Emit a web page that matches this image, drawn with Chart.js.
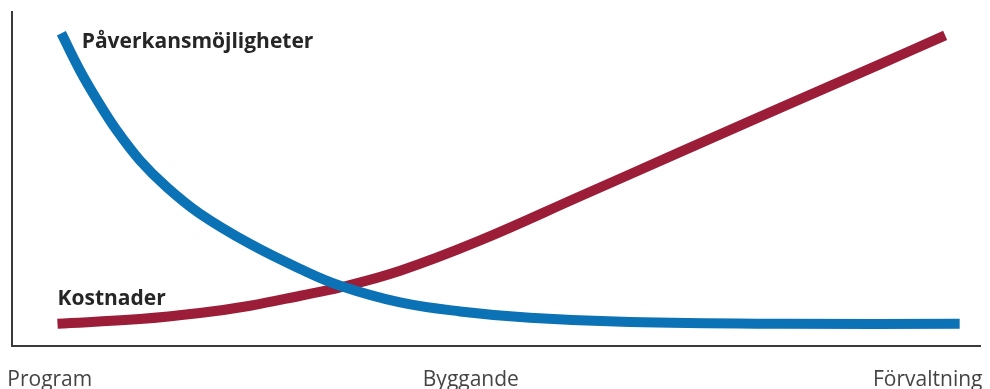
<!DOCTYPE html>
<html>
<head>
<meta charset="utf-8">
<script src="https://cdn.jsdelivr.net/npm/chart.js@4"></script>
<style>
  html, body { margin: 0; padding: 0; background: #fff; }
  #wrap { width: 990px; height: 389px; }
</style>
</head>
<body>
<div id="wrap"><canvas id="chart"></canvas></div>
<script>
// DATA
const phaseTicks = [3.9, 47.4, 94.6];
const phaseLabels = ['Program', 'Byggande', 'Förvaltning'];

// Påverkansmöjligheter (blue)
const influenceX = [5.1, 7.0, 8.8, 10.8, 13.2, 16.0, 19.4, 24.6, 29.8, 33.9, 40.1, 46.3, 53.5, 63.8, 80.0, 97.9];
const influenceY = [93.6, 82.6, 73.6, 64.6, 55.6, 47.5, 39.6, 30.5, 23.0, 18.0, 13.0, 10.3, 8.4, 7.1, 6.6, 6.6];

// Kostnader (red)
const costX = [4.7, 13.2, 19.4, 24.6, 29.8, 33.9, 40.1, 48.3, 58.7, 69.0, 79.3, 89.7, 96.4];
const costY = [6.6, 8.0, 9.8, 12.0, 15.0, 17.5, 22.5, 31.5, 44.8, 58.0, 71.2, 84.4, 93.0];

// curve labels, in data units
const curveLabels = [
  { text: 'Påverkansmöjligheter', x: 7.2, y: 91 },
  { text: 'Kostnader', x: 4.7, y: 14.1 }
];

function toPoints(xs, ys){
  return xs.map((x, i) => ({ x: x, y: ys[i] }));
}

// draws the curve names next to the lines
const curveLabelPlugin = {
  id: 'curveLabels',
  afterDatasetsDraw(chart){
    const c = chart.ctx;
    const xs = chart.scales.x, ys = chart.scales.y;
    c.save();
    c.font = 'bold 21px "Open Sans", sans-serif';
    c.fillStyle = '#262626';
    c.textAlign = 'left';
    c.textBaseline = 'middle';
    curveLabels.forEach(l => {
      c.fillText(l.text, xs.getPixelForValue(l.x), ys.getPixelForValue(l.y));
    });
    c.restore();
  }
};

const ctx = document.getElementById('chart').getContext('2d');

new Chart(ctx, {
  type: 'line',
  data: {
    datasets: [{
      label: 'Påverkansmöjligheter',
      data: toPoints(influenceX, influenceY),
      borderColor: '#0b72b6',
      borderWidth: 10,
      borderCapStyle: 'butt',
      pointRadius: 0,
      fill: false,
      tension: 0.4
    },{
      label: 'Kostnader',
      data: toPoints(costX, costY),
      borderColor: '#9c1d38',
      borderWidth: 10,
      borderCapStyle: 'butt',
      pointRadius: 0,
      fill: false,
      tension: 0.4
    }]
  },
  options: {
    responsive: true,
    maintainAspectRatio: false,
    animation: false,
    layout: { padding: { left: 12, top: 12, right: 10, bottom: -26 } },
    plugins: {
      legend: { display: false },
      tooltip: { enabled: false }
    },
    scales: {
      x: {
        type: 'linear',
        min: 0,
        max: 100,
        grid: { display: false, drawTicks: false },
        border: { display: true, color: '#3a3a3a', width: 2 },
        afterBuildTicks: axis => {
          axis.ticks = phaseTicks.map(v => ({ value: v }));
        },
        // labels may hang over the plot edges, like in the original
        afterFit: axis => {
          axis.paddingLeft = 0;
          axis.paddingRight = 0;
        },
        ticks: {
          autoSkip: false,
          maxRotation: 0,
          padding: 22,
          color: '#444',
          font: { family: '"Open Sans", sans-serif', size: 21 },
          callback: (value) => phaseLabels[phaseTicks.indexOf(value)]
        }
      },
      y: {
        min: 0,
        max: 100,
        grid: { display: false, drawTicks: false },
        border: { display: true, color: '#3a3a3a', width: 2 },
        ticks: { display: false }
      }
    }
  },
  plugins: [curveLabelPlugin]
});
</script>
</body>
</html>
